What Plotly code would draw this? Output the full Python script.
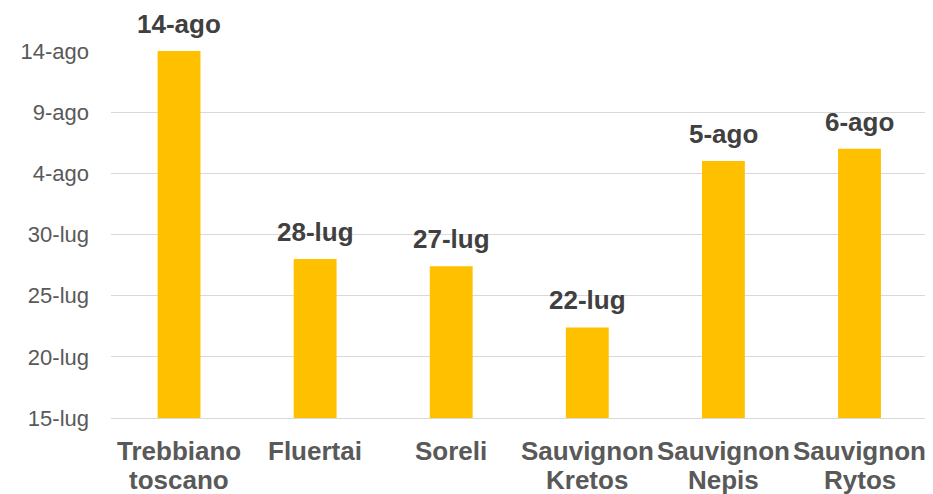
import plotly.graph_objects as go

categories = ["Trebbiano toscano", "Fluertai", "Soreli",
              "Sauvignon Kretos", "Sauvignon Nepis", "Sauvignon Rytos"]
# category label lines (first line / second line)
label_line1 = ["Trebbiano", "Fluertai", "Soreli", "Sauvignon", "Sauvignon", "Sauvignon"]
label_line2 = ["toscano", "", "", "Kretos", "Nepis", "Rytos"]
# harvest date expressed as days after 15 July
harvest_days = [30, 13, 12.4, 7.4, 21, 22]
harvest_labels = ["14-ago", "28-lug", "27-lug", "22-lug", "5-ago", "6-ago"]
tick_days = [0, 5, 10, 15, 20, 25, 30]
tick_labels = ["15-lug", "20-lug", "25-lug", "30-lug", "4-ago", "9-ago", "14-ago"]

FONT = "Liberation Sans, Arial, sans-serif"

fig = go.Figure()
fig.add_trace(go.Bar(
    x=categories, y=harvest_days,
    marker=dict(color="#FFC000", line=dict(width=0)),
    width=0.315,
    hoverinfo="skip",
))

for c, v, t in zip(categories, harvest_days, harvest_labels):
    fig.add_annotation(x=c, y=v, text="<b>%s</b>" % t, showarrow=False,
                       yanchor="bottom", yshift=10,
                       font=dict(family=FONT, size=26, color="#404040"))

for c, l1, l2 in zip(categories, label_line1, label_line2):
    fig.add_annotation(x=c, y=0, yref="paper", text="<b>%s</b>" % l1,
                       showarrow=False, yanchor="top", yshift=-16,
                       font=dict(family=FONT, size=26, color="#595959"))
    if l2:
        fig.add_annotation(x=c, y=0, yref="paper", text="<b>%s</b>" % l2,
                           showarrow=False, yanchor="top", yshift=-45,
                           font=dict(family=FONT, size=26, color="#595959"))

# page body has an 8px margin, so the figure is sized/offset to compensate
fig.update_layout(
    width=925, height=486,
    margin=dict(l=103, r=5, t=43, b=76, pad=0),
    paper_bgcolor="white", plot_bgcolor="white",
    showlegend=False,
    font=dict(family=FONT),
)
fig.update_xaxes(
    showticklabels=False,
    showline=False, showgrid=False, zeroline=False,
    ticks="", fixedrange=True,
)
fig.update_yaxes(
    range=[0, 30],
    tickvals=tick_days, ticktext=tick_labels,
    tickfont=dict(family=FONT, size=22, color="#595959"),
    showgrid=True, gridcolor="#D9D9D9", gridwidth=1,
    zeroline=True, zerolinecolor="#D9D9D9", zerolinewidth=1,
    showline=False, ticks="", ticklabelstandoff=21,
)

fig.write_html("out.html")
